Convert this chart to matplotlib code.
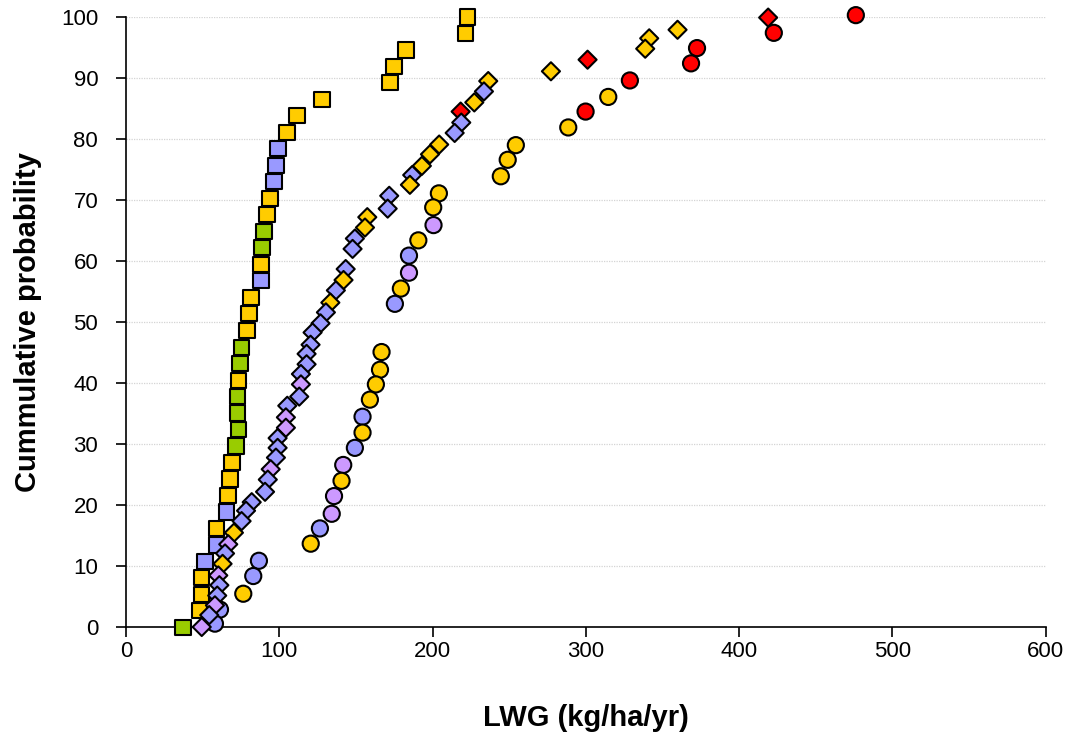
import matplotlib.pyplot as plt

# ---- data ----
# squares series
sq_lwg = [223.0, 221.7, 182.6, 174.8, 172.2, 127.8, 111.5, 105.0, 99.1, 97.8,
          96.5, 93.9, 92.0, 90.0, 88.7, 88.0, 88.0, 81.5, 80.2, 78.9,
          75.5, 74.3, 73.2, 72.8, 72.8, 73.2, 71.7, 69.1, 67.8, 66.5,
          65.7, 59.1, 59.1, 51.5, 49.4, 49.4, 47.8, 37.2]
sq_prob = [100.0, 97.3, 94.6, 91.9, 89.2, 86.5, 83.8, 81.1, 78.4, 75.7,
           73.0, 70.3, 67.6, 64.9, 62.2, 59.5, 56.8, 54.1, 51.4, 48.6,
           45.9, 43.2, 40.5, 37.8, 35.1, 32.4, 29.7, 27.0, 24.3, 21.6,
           18.9, 16.2, 13.5, 10.8, 8.1, 5.4, 2.7, 0.0]
sq_group = ["Y", "Y", "Y", "Y", "Y", "Y", "Y", "Y", "B", "B",
            "B", "Y", "Y", "G", "G", "Y", "B", "Y", "Y", "Y",
            "G", "G", "Y", "G", "G", "G", "G", "Y", "Y", "Y",
            "B", "Y", "B", "B", "Y", "Y", "Y", "G"]

# diamonds series
dm_lwg = [418.9, 359.8, 341.3, 338.7, 301.1, 277.2, 236.3, 233.5, 227.2, 218.3,
          218.7, 214.4, 204.3, 198.3, 193.0, 186.7, 185.2, 171.7, 170.7, 157.4,
          155.9, 149.3, 147.8, 143.3, 141.9, 136.9, 133.3, 130.4, 126.9, 121.7,
          120.4, 117.8, 117.8, 114.1, 114.1, 113.0, 105.2, 104.3, 104.3, 98.9,
          98.9, 97.8, 94.4, 92.5, 90.7, 82.0, 78.3, 75.4, 70.4, 66.7,
          64.6, 63.0, 60.2, 60.9, 59.5, 58.0, 54.3, 49.4]
dm_prob = [99.9, 97.9, 96.5, 94.8, 93.0, 91.1, 89.5, 87.8, 86.0, 84.5,
           82.7, 81.0, 79.1, 77.5, 75.6, 74.1, 72.5, 70.7, 68.6, 67.2,
           65.5, 63.7, 62.0, 58.7, 56.9, 55.2, 53.2, 51.6, 49.8, 48.3,
           46.3, 44.8, 43.1, 41.5, 39.8, 37.8, 36.3, 34.4, 32.7, 31.0,
           29.4, 27.8, 25.9, 24.2, 22.2, 20.5, 19.1, 17.4, 15.5, 13.6,
           12.1, 10.4, 8.5, 6.9, 5.2, 3.6, 2.0, 0.05]
dm_group = ["R", "Y", "Y", "Y", "R", "Y", "Y", "B", "Y", "R",
            "B", "B", "Y", "Y", "Y", "B", "Y", "B", "B", "Y",
            "Y", "B", "B", "B", "Y", "B", "Y", "B", "B", "B",
            "B", "B", "B", "B", "P", "B", "B", "P", "P", "B",
            "B", "B", "P", "B", "B", "B", "B", "B", "Y", "P",
            "B", "Y", "P", "B", "B", "P", "B", "P"]

# circles series
ci_lwg = [476.1, 422.6, 372.5, 368.6, 328.7, 314.6, 299.8, 288.5, 254.3, 249.0,
          244.5, 204.1, 200.4, 200.6, 190.7, 184.6, 184.6, 179.3, 175.4,
          166.7, 165.7, 163.0, 159.1, 154.3, 154.3, 149.3, 141.7, 140.6, 135.7,
          134.2, 126.5, 120.5, 86.7, 83.0, 76.5, 61.3, 58.0]
ci_prob = [100.3, 97.4, 94.9, 92.4, 89.6, 86.9, 84.5, 81.9, 79.0, 76.6,
           73.9, 71.1, 68.8, 65.9, 63.4, 60.9, 58.1, 55.5, 53.0,
           45.1, 42.2, 39.8, 37.3, 34.5, 31.9, 29.4, 26.6, 24.0, 21.5,
           18.6, 16.2, 13.7, 10.9, 8.4, 5.5, 2.9, 0.6]
ci_group = ["R", "R", "R", "R", "R", "Y", "R", "Y", "Y", "Y",
            "Y", "Y", "Y", "P", "Y", "B", "P", "Y", "B",
            "Y", "Y", "Y", "Y", "B", "Y", "B", "P", "Y", "P",
            "P", "B", "Y", "B", "B", "Y", "B", "B"]

PALETTE = {"Y": "#FFCC00", "B": "#9999FF", "G": "#99CC00",
           "P": "#CC99FF", "R": "#FF0000"}

plt.rcParams["font.family"] = ["Liberation Sans", "DejaVu Sans"]

fig = plt.figure(figsize=(10.77, 7.38), dpi=100)
ax = fig.add_axes([0.117, 0.150, 0.854, 0.827])


def draw(xs, ys, groups, marker, size):
    ax.scatter(xs, ys, s=size, marker=marker,
               c=[PALETTE[g] for g in groups],
               edgecolors="black", linewidths=1.5, clip_on=False, zorder=3)


draw(ci_lwg, ci_prob, ci_group, "o", 135)
draw(sq_lwg, sq_prob, sq_group, "s", 120)
draw(dm_lwg, dm_prob, dm_group, "D", 85)

ax.set_xlim(0, 600)
ax.set_ylim(0, 100)
ax.set_xticks(range(0, 601, 100))
ax.set_yticks(range(0, 101, 10))
ax.yaxis.grid(True, color="#d4d4d4", linestyle=(0, (1, 1)), linewidth=0.9)
ax.set_axisbelow(True)

for side in ("top", "right"):
    ax.spines[side].set_visible(False)
for side in ("left", "bottom"):
    ax.spines[side].set_linewidth(1.2)

ax.tick_params(axis="both", direction="out", length=7, width=1.2, labelsize=16)
ax.tick_params(axis="x", pad=3)
ax.tick_params(axis="y", pad=13)

ax.set_xlabel("LWG (kg/ha/yr)", fontsize=21, fontweight="bold", labelpad=30)
ax.set_ylabel("Cummulative probability", fontsize=21, fontweight="bold", labelpad=14)

fig.savefig("out.png", dpi=100)
